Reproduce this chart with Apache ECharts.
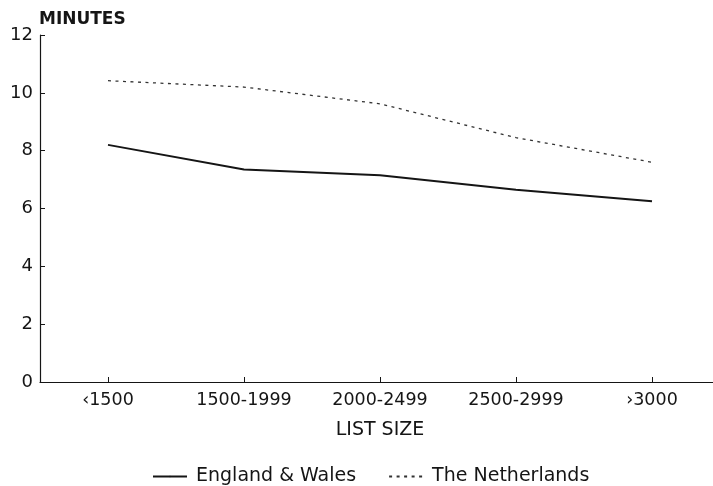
<!DOCTYPE html>
<html>
<head>
<meta charset="utf-8">
<script src="https://cdn.jsdelivr.net/npm/echarts@6/dist/echarts.min.js"></script>
<style>
  html, body { margin: 0; padding: 0; background: #fff; }
  #chart { width: 713px; height: 486px; }
</style>
</head>
<body>
<div id="chart"></div>
<script>
// list size bands
const categories = ['‹1500', '1500-1999', '2000-2499', '2500-2999', '›3000']
// minutes per consultation
const englandWales = [8.2, 7.35, 7.15, 6.65, 6.25]
const netherlands = [10.42, 10.2, 9.62, 8.45, 7.6]
const yTicks = [0, 2, 4, 6, 8, 10, 12]

const ink = '#151515'
const font = 'DejaVu Sans, Liberation Sans, sans-serif'

const chart = echarts.init(document.getElementById('chart'))

const option = {
  animation: false,
  backgroundColor: '#fff',
  title: {
    text: 'MINUTES',
    left: 34,
    top: 6,
    textStyle: { fontFamily: font, fontSize: 17, fontWeight: 'bold', color: ink }
  },
  legend: {
    top: 462,
    left: 147,
    itemWidth: 34,
    itemHeight: 2,
    itemGap: 32,
    textStyle: { fontFamily: font, fontSize: 19, color: ink, padding: [0, 0, 0, 4] },
    data: ['England & Wales', 'The Netherlands']
  },
  grid: {
    left: 40,
    top: 35,
    bottom: 104,
    width: 680,
    outerBoundsMode: 'none',
    containLabel: false
  },
  xAxis: {
    type: 'category',
    data: categories,
    boundaryGap: true,
    name: 'LIST SIZE',
    nameLocation: 'middle',
    nameGap: 39,
    nameTextStyle: { fontFamily: font, fontSize: 19, color: ink },
    axisLine: { lineStyle: { color: ink, width: 1.2 } },
    axisTick: { show: true, inside: true, alignWithLabel: true, length: 5, lineStyle: { color: ink } },
    axisLabel: { fontFamily: font, fontSize: 17.5, color: ink, margin: 9 },
    splitLine: { show: false }
  },
  yAxis: {
    type: 'value',
    min: yTicks[0],
    max: yTicks[yTicks.length - 1],
    interval: 2,
    axisLine: { show: true, lineStyle: { color: ink, width: 1.2 } },
    axisTick: { show: true, inside: true, length: 5, lineStyle: { color: ink } },
    axisLabel: { fontFamily: font, fontSize: 18, color: ink, margin: 7 },
    splitLine: { show: false }
  },
  series: [
    {
      name: 'England & Wales',
      type: 'line',
      data: englandWales,
      symbol: 'none',
      lineStyle: { color: ink, width: 2 },
      itemStyle: { color: ink }
    },
    {
      name: 'The Netherlands',
      type: 'line',
      data: netherlands,
      symbol: 'none',
      lineStyle: { color: '#333', width: 1.3, type: [3, 4.5] },
      itemStyle: { color: '#333' }
    }
  ]
}

chart.setOption(option)
</script>
</body>
</html>
